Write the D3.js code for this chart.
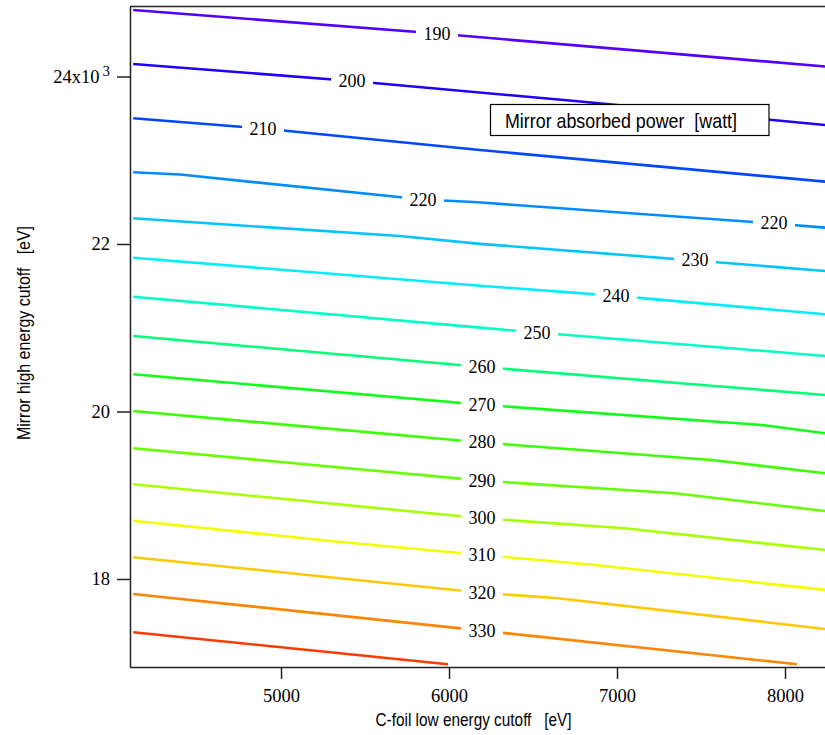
<!DOCTYPE html>
<html>
<head>
<meta charset="utf-8">
<script src="https://cdn.jsdelivr.net/npm/d3@7"></script>
<style>
  body { margin: 0; background: #fff; }
  svg { display: block; }
  .keep-spaces { white-space: pre; }
</style>
</head>
<body>
<svg id="chart" width="825" height="735"></svg>
<script>
// Contour levels of the absorbed mirror power [watt] and their colours
const levels = [190, 200, 210, 220, 230, 240, 250, 260, 270, 280, 290, 300, 310, 320, 330, 340];
const levelColors = ["#5200ff", "#1e00ff", "#0048ff", "#008cff", "#00c4ff", "#00ecff", "#00ffc4", "#00ff7a",
                     "#10ff18", "#3cff00", "#66ff00", "#a8ff00", "#f2ff00", "#ffc800", "#ff8400", "#ff3a00"];

// Contour traces: [C-foil low energy cutoff (eV), mirror high energy cutoff (eV)]
const c190 = [[4120, 24794], [5928, 24513], [8240, 24119]];
const c200 = [[4120, 24149], [5423, 23946], [6750, 23707], [8240, 23421]];
const c210 = [[4120, 23501], [4893, 23379], [6184, 23122], [8240, 22744]];
const c220 = [[4120, 22856], [4399, 22830], [5845, 22531], [6173, 22498], [7934, 22245], [8240, 22195]];
const c230 = [[4120, 22307], [5708, 22095], [6184, 22002], [7464, 21803], [8240, 21678]];
const c240 = [[4120, 21836], [6184, 21502], [6994, 21381], [8240, 21160]];
const c250 = [[4120, 21371], [6184, 21001], [6524, 20943], [8240, 20663]];
const c260 = [[4120, 20901], [6196, 20531], [8240, 20197]];
const c270 = [[4120, 20444], [6196, 20081], [7863, 19839], [8240, 19740]];
const c280 = [[4120, 20006], [6196, 19630], [7565, 19421], [8240, 19262]];
const c290 = [[4120, 19561], [6196, 19174], [7345, 19023], [8240, 18812]];
const c300 = [[4120, 19131], [6196, 18725], [7047, 18605], [8240, 18346]];
const c310 = [[4120, 18696], [5292, 18454], [6196, 18287], [6869, 18167], [8240, 17869]];
const c320 = [[4120, 18259], [6196, 17836], [6649, 17770], [8240, 17403]];
const c330 = [[4120, 17821], [6196, 17383], [8071, 16982]];
const c340 = [[4120, 17364], [5994, 16982]];
const traces = [c190, c200, c210, c220, c230, c240, c250, c260, c270, c280, c290, c300, c310, c320, c330, c340];

// Inline contour labels: level and the x position where it sits on its line
const labelLevels = [190, 200, 210, 220, 220, 230, 240, 250, 260, 270, 280, 290, 300, 310, 320, 330];
const labelXs = [5928, 5423, 4893, 5845, 7934, 7464, 6994, 6524, 6196, 6196, 6196, 6196, 6196, 6196, 6196, 6196];

// Axis ticks
const xTicks = [5000, 6000, 7000, 8000];
const yTicks = [18000, 20000, 22000, 24000];

const xTitle = "C-foil low energy cutoff   [eV]";
const yTitle = "Mirror high energy cutoff   [eV]";
const legendText = "Mirror absorbed power  [watt]";

const svg = d3.select("#chart");
const plotLeft = 130, plotRight = 825, plotTop = 6.5, plotBottom = 667;

const x = d3.scaleLinear().domain([4101, 8238]).range([plotLeft, plotRight]);
const y = d3.scaleLinear().domain([16949, 24836]).range([plotBottom, plotTop]);

svg.append("defs").append("clipPath").attr("id", "plotClip")
  .append("rect").attr("x", plotLeft).attr("y", plotTop)
  .attr("width", plotRight - plotLeft).attr("height", plotBottom - plotTop);

const plot = svg.append("g").attr("clip-path", "url(#plotClip)");

const line = d3.line().x(d => x(d[0])).y(d => y(d[1]));

plot.selectAll("path.contour")
  .data(traces)
  .join("path")
  .attr("class", "contour")
  .attr("d", line)
  .attr("fill", "none")
  .attr("stroke", (d, i) => levelColors[i])
  .attr("stroke-width", 2.6)
  .attr("stroke-linejoin", "round");

// value of a trace at a given x, by linear interpolation between its vertices
function traceAt(trace, xv) {
  for (let i = 1; i < trace.length; i++) {
    const a = trace[i - 1], b = trace[i];
    if (xv <= b[0]) {
      const t = (xv - a[0]) / (b[0] - a[0]);
      return a[1] + t * (b[1] - a[1]);
    }
  }
  return trace[trace.length - 1][1];
}

const labelG = svg.append("g");
labelLevels.forEach((lv, i) => {
  const trace = traces[levels.indexOf(lv)];
  const xv = labelXs[i];
  const px = x(xv), py = y(traceAt(trace, xv));
  const g = labelG.append("g");
  const bg = g.append("rect").attr("fill", "#fff");
  const t = g.append("text")
    .attr("x", px).attr("y", py)
    .attr("text-anchor", "middle")
    .attr("dominant-baseline", "central")
    .attr("font-family", "'Liberation Serif', 'Times New Roman', serif")
    .attr("font-size", 18)
    .attr("fill", "#000")
    .text(lv);
  const bb = t.node().getBBox();
  bg.attr("x", bb.x - 7.5).attr("y", bb.y + 2).attr("width", bb.width + 15).attr("height", bb.height - 4);
});

// Axes
const axisColor = "#222";
const xAxis = d3.axisBottom(x).tickValues(xTicks).tickSize(12).tickSizeOuter(0).tickPadding(10)
  .tickFormat(d3.format("d"));
const gx = svg.append("g").attr("transform", `translate(0,${plotBottom})`).call(xAxis);

const yAxis = d3.axisLeft(y).tickValues(yTicks).tickSize(13).tickSizeOuter(0).tickPadding(7)
  .tickFormat(d => String(d / 1000));
const gy = svg.append("g").attr("transform", `translate(${plotLeft},0)`).call(yAxis);

[gx, gy].forEach(g => {
  g.select(".domain").attr("stroke", axisColor).attr("stroke-width", 1.5);
  g.selectAll(".tick line").attr("stroke", axisColor).attr("stroke-width", 1.5);
  g.selectAll(".tick text")
    .attr("font-family", "'Liberation Serif', 'Times New Roman', serif")
    .attr("font-size", 18.5)
    .attr("fill", "#000");
});

// exponent on the top tick label
gy.selectAll(".tick text").filter(d => d === 24000).each(function () {
  const t = d3.select(this);
  t.text(null);
  t.append("tspan").text("24x10");
  t.append("tspan").attr("dx", 3).attr("dy", -7).attr("font-size", 15).text("3");
});

// top frame line
svg.append("line")
  .attr("x1", plotLeft).attr("x2", plotRight).attr("y1", plotTop).attr("y2", plotTop)
  .attr("stroke", axisColor).attr("stroke-width", 1.5);

// Axis titles
const sansNarrow = "'Liberation Sans Narrow', 'Arial Narrow', 'Liberation Sans', Arial, sans-serif";
svg.append("text")
  .attr("class", "keep-spaces")
  .attr("x", (plotLeft + plotRight) / 2 - 4).attr("y", 726)
  .attr("text-anchor", "middle")
  .attr("font-family", sansNarrow)
  .attr("font-size", 19)
  .attr("textLength", 196).attr("lengthAdjust", "spacingAndGlyphs")
  .text(xTitle);

svg.append("text")
  .attr("class", "keep-spaces")
  .attr("transform", `translate(30,333) rotate(-90)`)
  .attr("text-anchor", "middle")
  .attr("font-family", sansNarrow)
  .attr("font-size", 19)
  .attr("textLength", 214).attr("lengthAdjust", "spacingAndGlyphs")
  .text(yTitle);

// Annotation box
const box = svg.append("g");
box.append("rect")
  .attr("x", 490.5).attr("y", 104.5).attr("width", 278.5).attr("height", 31)
  .attr("fill", "#fff").attr("stroke", "#000").attr("stroke-width", 1.2);
box.append("text")
  .attr("class", "keep-spaces")
  .attr("x", 505).attr("y", 128)
  .attr("font-family", sansNarrow)
  .attr("font-size", 21)
  .attr("textLength", 232).attr("lengthAdjust", "spacingAndGlyphs")
  .text(legendText);
</script>
</body>
</html>
